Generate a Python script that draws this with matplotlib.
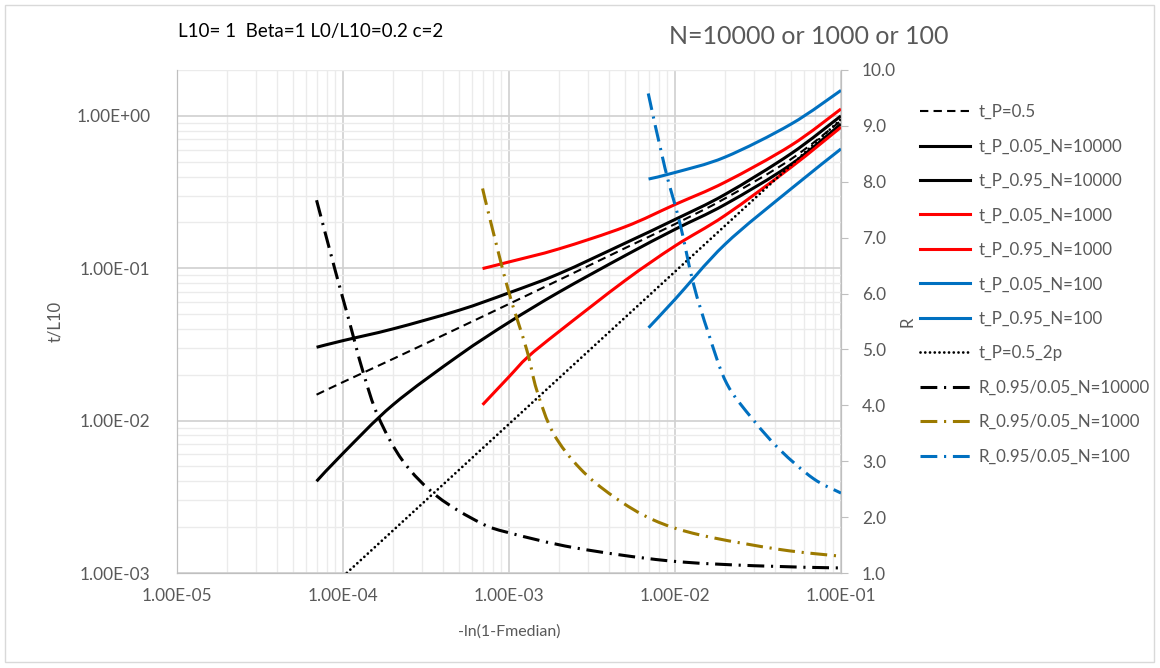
import numpy as np
import matplotlib
matplotlib.use("Agg")
import matplotlib.pyplot as plt
from matplotlib.ticker import LogLocator, FixedLocator, FuncFormatter, NullFormatter
from matplotlib.patches import Rectangle, PathPatch
from matplotlib.path import Path
from matplotlib.lines import Line2D

plt.rcParams['font.family'] = ['Lato', 'DejaVu Sans']

# datos
x_10000 = [6.93e-5, 1e-4, 2e-4, 5e-4, 1e-3, 2e-3, 5e-3, 1e-2, 2e-2, 5e-2, 1e-1]
t_p05 = [0.0148, 0.0179, 0.0254, 0.0407, 0.0583, 0.0837, 0.1355, 0.195, 0.287, 0.52, 0.93]
t_005_10000 = [0.0040, 0.0061, 0.0127, 0.0268, 0.0442, 0.0697, 0.121, 0.18, 0.262, 0.48, 0.885]
t_095_10000 = [0.0303, 0.0335, 0.0400, 0.0530, 0.0690, 0.092, 0.146, 0.209, 0.305, 0.565, 1.0]

x_1000 = [6.93e-4, 1e-3, 1.3e-3, 2e-3, 5e-3, 1e-2, 2e-2, 5e-2, 1e-1]
t_005_1000 = [0.0127, 0.0194, 0.0262, 0.0384, 0.083, 0.14, 0.222, 0.46, 0.843]
x_1000b = [6.93e-4, 1e-3, 2e-3, 5e-3, 1e-2, 2e-2, 5e-2, 1e-1]
t_095_1000 = [0.0995, 0.110, 0.134, 0.187, 0.262, 0.367, 0.64, 1.11]

x_100 = [6.93e-3, 1e-2, 2e-2, 5e-2, 1e-1]
t_005_100 = [0.0407, 0.0625, 0.1435, 0.332, 0.607]
t_095_100 = [0.385, 0.425, 0.536, 0.883, 1.47]

x_2p = [6.93e-5, 1e-4, 1e-3, 1e-2, 1e-1]
t_p05_2p = [6.6e-4, 9.5e-4, 9.5e-3, 0.095, 0.95]

xr_10000 = [6.93e-5, 9e-5, 1.08e-4, 1.32e-4, 1.63e-4, 2.3e-4, 3.7e-4, 6.7e-4, 1e-3, 2.5e-3, 9e-3, 3e-2, 1e-1]
r_10000 = [7.67, 6.4, 5.55, 4.6, 3.8, 3.0, 2.37, 1.9, 1.72, 1.45, 1.22, 1.13, 1.09]
xr_1000 = [6.93e-4, 7.7e-4, 9.9e-4, 1.28e-3, 1.47e-3, 1.85e-3, 2.68e-3, 4.25e-3, 7.4e-3, 1.42e-2, 4.3e-2, 1e-1]
r_1000 = [7.88, 7.32, 6.06, 4.99, 4.27, 3.50, 2.87, 2.37, 1.95, 1.68, 1.42, 1.30]
xr_100 = [6.9e-3, 8.71e-3, 1.07e-2, 1.29e-2, 1.59e-2, 2.05e-2, 2.96e-2, 4.3e-2, 6.81e-2, 1e-1]
r_100 = [9.58, 8.24, 7.26, 6.18, 5.29, 4.39, 3.74, 3.20, 2.69, 2.43]

gris = '#595959'
rojo = '#FF0000'
azul = '#0070C0'
oro = '#9C7A00'
dashdot = (0, (5.5, 2.2, 0.7, 2.2))


def curva(a, xs, ys, ylog, **kw):
    # linea suavizada como en Excel (bezier por los puntos, en escala log)
    px = np.log10(xs)
    py = np.log10(ys) if ylog else np.array(ys, dtype=float)
    pts = np.column_stack([px, py])
    n = len(pts)
    verts = [pts[0]]
    codes = [Path.MOVETO]
    for i in range(n - 1):
        p0 = pts[i - 1] if i > 0 else pts[i]
        p3 = pts[i + 2] if i + 2 < n else pts[i + 1]
        verts += [pts[i] + (pts[i + 1] - p0) / 6, pts[i + 1] - (p3 - pts[i]) / 6, pts[i + 1]]
        codes += [Path.CURVE4] * 3
    verts = np.array(verts)
    verts[:, 0] = 10 ** verts[:, 0]
    if ylog:
        verts[:, 1] = 10 ** verts[:, 1]
    a.add_patch(PathPatch(Path(verts, codes), fill=False, **kw))
    return Line2D([], [], color=kw.get('edgecolor'), lw=kw.get('lw'),
                  ls=kw.get('ls', '-'), dash_capstyle=kw.get('capstyle', 'butt'))


fig = plt.figure(figsize=(11.6, 6.68), dpi=100)
fig.patches.append(Rectangle((5 / 1160, 6 / 668), 1149 / 1160, 657 / 668, transform=fig.transFigure,
                             fill=False, edgecolor='#D9D9D9', lw=1))
ax = fig.add_axes([177 / 1160, 1 - 573 / 668, 664 / 1160, 503 / 668])
ax2 = ax.twinx()

ax.set_xscale('log')
ax.set_yscale('log')
ax.set_xlim(1e-5, 1e-1)
ax.set_ylim(1e-3, 2.0)
ax2.set_ylim(1, 10)

series = [
    (ax, x_10000, t_p05, True, dict(edgecolor='black', lw=1.5, ls=(0, (4, 2.5))), 't_P=0.5'),
    (ax, x_10000, t_005_10000, True, dict(edgecolor='black', lw=2.2), 't_P_0.05_N=10000'),
    (ax, x_10000, t_095_10000, True, dict(edgecolor='black', lw=2.2), 't_P_0.95_N=10000'),
    (ax, x_1000, t_005_1000, True, dict(edgecolor=rojo, lw=2.2), 't_P_0.05_N=1000'),
    (ax, x_1000b, t_095_1000, True, dict(edgecolor=rojo, lw=2.2), 't_P_0.95_N=1000'),
    (ax, x_100, t_005_100, True, dict(edgecolor=azul, lw=2.2), 't_P_0.05_N=100'),
    (ax, x_100, t_095_100, True, dict(edgecolor=azul, lw=2.2), 't_P_0.95_N=100'),
    (ax, x_2p, t_p05_2p, True, dict(edgecolor='black', lw=2.0, ls=(0, (0.01, 1.7)), capstyle='round'),
     't_P=0.5_2p'),
    (ax2, xr_10000, r_10000, False, dict(edgecolor='black', lw=2.2, ls=dashdot), 'R_0.95/0.05_N=10000'),
    (ax2, xr_1000, r_1000, False, dict(edgecolor=oro, lw=2.2, ls=dashdot), 'R_0.95/0.05_N=1000'),
    (ax2, xr_100, r_100, False, dict(edgecolor=azul, lw=2.2, ls=dashdot), 'R_0.95/0.05_N=100'),
]
handles = []
labels = []
for a, xs, ys, ylog, kw, lab in series:
    handles.append(curva(a, xs, ys, ylog, **kw))
    labels.append(lab)

# rejilla estilo Excel
ax.set_axisbelow(True)
ax.xaxis.set_major_locator(LogLocator(base=10, numticks=10))
ax.xaxis.set_minor_locator(LogLocator(base=10, subs=np.arange(2, 10), numticks=20))
ax.yaxis.set_major_locator(LogLocator(base=10, numticks=10))
ax.yaxis.set_minor_locator(LogLocator(base=10, subs=np.arange(2, 10), numticks=20))
ax.grid(True, which='major', color='#D0D0D0', lw=1.2)
ax.grid(True, which='minor', color='#EBEBEB', lw=1.0)

fmt = FuncFormatter(lambda v, p: ('%.2E' % v))
ax.xaxis.set_major_formatter(fmt)
ax.yaxis.set_major_formatter(fmt)
ax.xaxis.set_minor_formatter(NullFormatter())
ax.yaxis.set_minor_formatter(NullFormatter())
ax.tick_params(axis='both', which='both', length=0, labelcolor=gris, labelsize=12.4)
ax.tick_params(axis='y', pad=19)
ax.tick_params(axis='x', pad=11)

ax2.yaxis.set_major_locator(FixedLocator(np.arange(1, 11)))
ax2.yaxis.set_major_formatter(FuncFormatter(lambda v, p: '%.1f' % v))
ax2.tick_params(axis='y', length=5, color='#BFBFBF', labelcolor=gris, labelsize=12.4, pad=10)

for a in (ax, ax2):
    for s in a.spines.values():
        s.set_color('#BFBFBF')
    a.spines['top'].set_visible(False)

ax.set_ylabel('t/L10', color=gris, fontsize=12)
ax.yaxis.set_label_coords(-0.172, 0.5)
ax.set_xlabel('-ln(1-Fmedian)', color=gris, fontsize=11.5)
ax.xaxis.set_label_coords(0.5, -0.103)
ax2.set_ylabel('R', color=gris, fontsize=12)
ax2.yaxis.set_label_coords(1.088, 0.5)

fig.text(311 / 1160, 1 - 32 / 668, 'L10= 1  Beta=1 L0/L10=0.2 c=2', ha='center', va='center',
         fontsize=13.5, color='black')
fig.text(809 / 1160, 1 - 37 / 668, 'N=10000 or 1000 or 100', ha='center', va='center',
         fontsize=18, color=gris)

fig.legend(handles=handles, labels=labels, loc='upper left', bbox_to_anchor=(920 / 1160, 1 - 104 / 668),
           frameon=False, fontsize=12.2, labelcolor=gris, handlelength=2.95, handletextpad=0.5,
           labelspacing=1.09, borderpad=0, borderaxespad=0)

fig.savefig('out.png', dpi=100)
